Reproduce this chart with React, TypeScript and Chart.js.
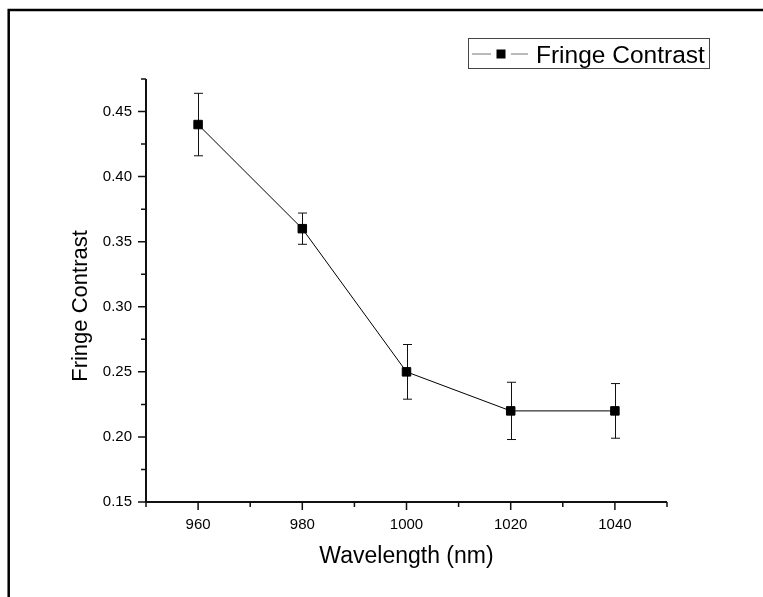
import React, { useEffect, useRef } from "react";
import { Chart, registerables } from "chart.js";

Chart.register(...registerables);

const wavelengths = [960, 980, 1000, 1020, 1040];
const contrast = [0.44, 0.36, 0.25, 0.22, 0.22];
const contrastErr = [0.024, 0.012, 0.021, 0.022, 0.021];

const xTickValues = [960, 980, 1000, 1020, 1040];
const xMinorValues = [950, 970, 990, 1010, 1030, 1050];
const yTickValues = [0.15, 0.2, 0.25, 0.3, 0.35, 0.4, 0.45];
const yMinorValues = [0.175, 0.225, 0.275, 0.325, 0.375, 0.425, 0.475];

const seriesLabel = "Fringe Contrast";
const xTitle = "Wavelength (nm)";
const yTitle = "Fringe Contrast";

const FONT = "Arial, 'Liberation Sans', sans-serif";

const decorPlugin = {
  id: "decor",
  beforeDraw(chart: any) {
    const ctx = chart.ctx;
    ctx.save();
    ctx.fillStyle = "#fff";
    ctx.fillRect(0, 0, chart.width, chart.height);
    // outer frame (left + top)
    ctx.strokeStyle = "#000";
    ctx.lineWidth = 2.5;
    ctx.beginPath();
    ctx.moveTo(8.7, chart.height);
    ctx.lineTo(8.7, 10);
    ctx.lineTo(chart.width, 10);
    ctx.stroke();
    ctx.restore();
  },
  beforeDatasetsDraw(chart: any) {
    const ctx = chart.ctx;
    const xs = chart.scales.x;
    const ys = chart.scales.y;
    ctx.save();
    ctx.strokeStyle = "#111";
    ctx.lineWidth = 1;
    for (let i = 0; i < wavelengths.length; i++) {
      const px = Math.round(xs.getPixelForValue(wavelengths[i])) + 0.5;
      const top = ys.getPixelForValue(contrast[i] + contrastErr[i]);
      const bot = ys.getPixelForValue(contrast[i] - contrastErr[i]);
      ctx.beginPath();
      ctx.moveTo(px, top);
      ctx.lineTo(px, bot);
      ctx.moveTo(px - 4.5, top);
      ctx.lineTo(px + 4.5, top);
      ctx.moveTo(px - 4.5, bot);
      ctx.lineTo(px + 4.5, bot);
      ctx.stroke();
    }
    ctx.restore();
  },
  afterDraw(chart: any) {
    const ctx = chart.ctx;
    const xs = chart.scales.x;
    const ys = chart.scales.y;
    const area = chart.chartArea;
    ctx.save();
    ctx.strokeStyle = "#111";
    // axes lines
    ctx.lineWidth = 2;
    ctx.beginPath();
    ctx.moveTo(area.left, area.top);
    ctx.lineTo(area.left, area.bottom);
    ctx.lineTo(area.right, area.bottom);
    ctx.stroke();
    // ticks
    ctx.lineWidth = 1.5;
    ctx.beginPath();
    for (const v of yTickValues) {
      const y = ys.getPixelForValue(v);
      ctx.moveTo(area.left, y);
      ctx.lineTo(area.left - 8, y);
    }
    for (const v of yMinorValues) {
      const y = ys.getPixelForValue(v);
      ctx.moveTo(area.left, y);
      ctx.lineTo(area.left - 5, y);
    }
    for (const v of xTickValues) {
      const x = xs.getPixelForValue(v);
      ctx.moveTo(x, area.bottom);
      ctx.lineTo(x, area.bottom + 8);
    }
    for (const v of xMinorValues) {
      const x = xs.getPixelForValue(v);
      ctx.moveTo(x, area.bottom);
      ctx.lineTo(x, area.bottom + 5);
    }
    ctx.stroke();

    // axis titles
    ctx.fillStyle = "#000";
    ctx.font = `23px ${FONT}`;
    ctx.textAlign = "center";
    ctx.textBaseline = "alphabetic";
    ctx.fillText(xTitle, (area.left + area.right) / 2, 563);
    ctx.save();
    ctx.translate(87, 306);
    ctx.rotate(-Math.PI / 2);
    ctx.font = `22px ${FONT}`;
    ctx.fillText(yTitle, 0, 0);
    ctx.restore();

    // legend
    ctx.strokeStyle = "#444";
    ctx.lineWidth = 1;
    ctx.strokeRect(468.5, 38.5, 241, 30);
    ctx.strokeStyle = "#777";
    ctx.lineWidth = 1.2;
    ctx.beginPath();
    ctx.moveTo(472, 54);
    ctx.lineTo(491, 54);
    ctx.moveTo(511, 54);
    ctx.lineTo(528, 54);
    ctx.stroke();
    ctx.fillStyle = "#000";
    ctx.fillRect(496.5, 49.5, 9, 9);
    ctx.font = `24.5px ${FONT}`;
    ctx.textAlign = "left";
    ctx.fillText(seriesLabel, 536, 63);
    ctx.restore();
  },
};

export default function App() {
  const canvasRef = useRef<HTMLCanvasElement | null>(null);

  useEffect(() => {
    const canvas = canvasRef.current;
    if (!canvas) return;
    const chart = new Chart(canvas, {
      type: "line",
      data: {
        datasets: [
          {
            label: seriesLabel,
            data: wavelengths.map((w, i) => ({ x: w, y: contrast[i] })),
            borderColor: "#000",
            borderWidth: 1,
            backgroundColor: "#000",
            pointStyle: "rect",
            pointRadius: 6,
            pointBorderWidth: 1,
            pointBorderColor: "#000",
            pointBackgroundColor: "#000",
            tension: 0,
            fill: false,
          },
        ],
      },
      options: {
        animation: false,
        responsive: false,
        devicePixelRatio: 1,
        layout: { padding: { left: 0, top: 79, right: 96, bottom: 0 } },
        plugins: {
          legend: { display: false },
          tooltip: { enabled: false },
          title: { display: false },
        },
        scales: {
          x: {
            type: "linear",
            min: 950,
            max: 1050,
            border: { display: false },
            grid: { display: false, drawTicks: false },
            afterFit: (scale: any) => {
              scale.height = 95;
            },
            afterBuildTicks: (scale: any) => {
              scale.ticks = xTickValues.map((v) => ({ value: v }));
            },
            ticks: {
              padding: 14,
              color: "#000",
              font: { family: FONT, size: 15 },
              maxRotation: 0,
              autoSkip: false,
              callback: (v: any) => String(v),
            },
          },
          y: {
            type: "linear",
            min: 0.15,
            max: 0.475,
            border: { display: false },
            grid: { display: false, drawTicks: false },
            afterFit: (scale: any) => {
              scale.width = 146;
            },
            afterBuildTicks: (scale: any) => {
              scale.ticks = yTickValues.map((v) => ({ value: v }));
            },
            ticks: {
              padding: 14,
              color: "#000",
              font: { family: FONT, size: 15 },
              autoSkip: false,
              callback: (v: any) => Number(v).toFixed(2),
            },
          },
        },
      },
      plugins: [decorPlugin],
    });
    return () => chart.destroy();
  }, []);

  return (
    <div style={{ position: "fixed", left: 0, top: 0, width: 763, height: 597, background: "#fff" }}>
      <canvas ref={canvasRef} width={763} height={597} style={{ display: "block", width: 763, height: 597 }} />
    </div>
  );
}
